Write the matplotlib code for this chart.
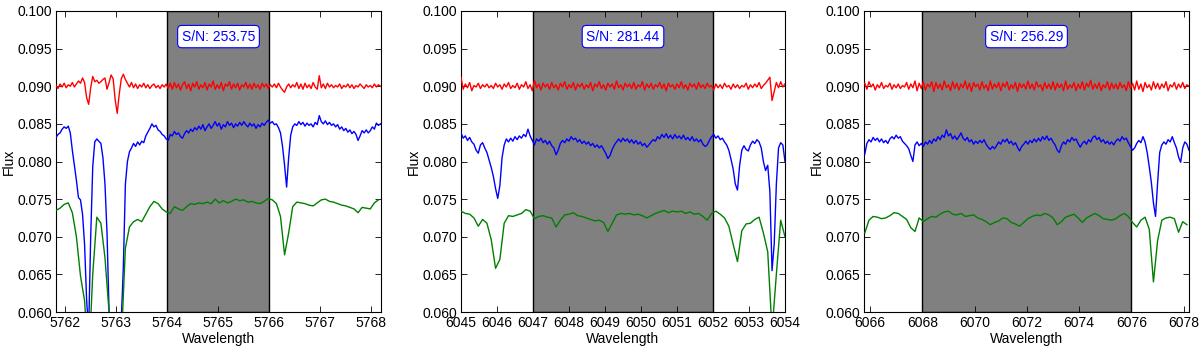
import numpy as np
import matplotlib
matplotlib.use("Agg")
import matplotlib.pyplot as plt

plt.rcParams['font.family'] = ['Liberation Sans', 'DejaVu Sans']

# ---------------- data ----------------
sn_labels = ["S/N: 253.75", "S/N: 281.44", "S/N: 256.29"]
xlims = [(5761.82, 5768.19), (6045.0, 6054.0), (6065.77, 6078.2)]
spans = [(5764.0, 5766.0), (6047.0, 6052.0), (6068.0, 6076.0)]
xticks = [list(range(5762, 5769)), list(range(6045, 6055)), list(range(6066, 6079, 2))]
yticks = [0.060, 0.065, 0.070, 0.075, 0.080, 0.085, 0.090, 0.095, 0.100]

# wavelength ranges of the sampled spectra (start, end)
wl_rb1 = (5761.82, 5768.18)
wl_g1 = (5761.82, 5768.14)
wl_rb2 = (6045.0, 6054.0)
wl_g2 = (6045.0, 6054.0)
wl_rb3 = (6065.8, 6078.2)
wl_g3 = (6065.8, 6078.12)

red1 = [
    0.0901, 0.0897, 0.0903, 0.0899, 0.0904, 0.0898, 0.0902, 0.0900, 0.0905, 0.0899,
    0.0903, 0.0907, 0.0904, 0.0911, 0.0905, 0.0885, 0.0876, 0.0898, 0.0913, 0.0906,
    0.0908, 0.0904, 0.0906, 0.0909, 0.0911, 0.0896, 0.0905, 0.0915, 0.0910, 0.0882,
    0.0864, 0.0890, 0.0910, 0.0916, 0.0909, 0.0904, 0.0899, 0.0905, 0.0898, 0.0903,
    0.0897, 0.0902, 0.0899, 0.0904, 0.0898, 0.0902, 0.0897, 0.0901, 0.0903, 0.0898,
    0.0901, 0.0897, 0.0902, 0.0899, 0.0903, 0.0897, 0.0904, 0.0896, 0.0905, 0.0898,
    0.0903, 0.0895, 0.0902, 0.0906, 0.0897, 0.0903, 0.0894, 0.0904, 0.0899, 0.0906,
    0.0896, 0.0902, 0.0898, 0.0905, 0.0895, 0.0903, 0.0899, 0.0907, 0.0896, 0.0902,
    0.0897, 0.0905, 0.0894, 0.0903, 0.0900, 0.0906, 0.0896, 0.0903, 0.0898, 0.0904,
    0.0895, 0.0902, 0.0899, 0.0905, 0.0897, 0.0903, 0.0896, 0.0904, 0.0898, 0.0902,
    0.0896, 0.0904, 0.0899, 0.0903, 0.0897, 0.0902, 0.0899, 0.0903, 0.0898, 0.0904,
    0.0899, 0.0895, 0.0892, 0.0899, 0.0903, 0.0898, 0.0902, 0.0899, 0.0905, 0.0897,
    0.0903, 0.0896, 0.0904, 0.0898, 0.0902, 0.0897, 0.0905, 0.0899, 0.0896, 0.0914,
    0.0898, 0.0903, 0.0897, 0.0904, 0.0899, 0.0902, 0.0898, 0.0901, 0.0899, 0.0903,
    0.0897, 0.0901, 0.0899, 0.0903, 0.0898, 0.0902, 0.0897, 0.0901, 0.0899, 0.0903,
    0.0900, 0.0897, 0.0902, 0.0899, 0.0901, 0.0898, 0.0903, 0.0899, 0.0902, 0.0900,
]
blue1 = [
    0.0832, 0.0836, 0.0838, 0.0843, 0.0846, 0.0844, 0.0847, 0.0838, 0.0815, 0.0795,
    0.0775, 0.0752, 0.0749, 0.0730, 0.0690, 0.0616, 0.0575, 0.0700, 0.0793, 0.0826,
    0.0830, 0.0827, 0.0824, 0.0805, 0.0770, 0.0705, 0.0600, 0.0540, 0.0510, 0.0500,
    0.0510, 0.0540, 0.0590, 0.0660, 0.0770, 0.0800, 0.0813, 0.0818, 0.0824, 0.0820,
    0.0826, 0.0822, 0.0827, 0.0825, 0.0834, 0.0839, 0.0844, 0.0850, 0.0846, 0.0848,
    0.0842, 0.0840, 0.0836, 0.0834, 0.0830, 0.0828, 0.0836, 0.0834, 0.0840, 0.0836,
    0.0838, 0.0833, 0.0831, 0.0837, 0.0841, 0.0838, 0.0843, 0.0840, 0.0845, 0.0842,
    0.0847, 0.0843, 0.0849, 0.0841, 0.0846, 0.0850, 0.0844, 0.0848, 0.0853, 0.0847,
    0.0851, 0.0843, 0.0849, 0.0846, 0.0853, 0.0848, 0.0851, 0.0845, 0.0850, 0.0847,
    0.0852, 0.0848, 0.0853, 0.0849, 0.0846, 0.0851, 0.0847, 0.0850, 0.0844, 0.0849,
    0.0846, 0.0851, 0.0848, 0.0852, 0.0855, 0.0851, 0.0853, 0.0849, 0.0850, 0.0845,
    0.0838, 0.0820, 0.0795, 0.0766, 0.0805, 0.0835, 0.0846, 0.0850, 0.0848, 0.0853,
    0.0849, 0.0852, 0.0847, 0.0851, 0.0848, 0.0850, 0.0846, 0.0852, 0.0849, 0.0861,
    0.0853, 0.0850, 0.0854, 0.0849, 0.0852, 0.0848, 0.0850, 0.0846, 0.0849, 0.0843,
    0.0846, 0.0841, 0.0844, 0.0839, 0.0842, 0.0837, 0.0840, 0.0836, 0.0828, 0.0834,
    0.0841, 0.0838, 0.0842, 0.0838, 0.0841, 0.0846, 0.0843, 0.0851, 0.0848, 0.0850,
]
green1 = [
    0.0735, 0.0738, 0.0743, 0.0745, 0.0732, 0.0700, 0.0648, 0.0615, 0.0530, 0.0650,
    0.0726, 0.0718, 0.0672, 0.0600, 0.0500, 0.0480, 0.0560, 0.0685, 0.0713, 0.0720,
    0.0723, 0.0720, 0.0730, 0.0740, 0.0747, 0.0744, 0.0737, 0.0733, 0.0731, 0.0740,
    0.0737, 0.0735, 0.0740, 0.0744, 0.0743, 0.0745, 0.0744, 0.0746, 0.0744, 0.0750,
    0.0745, 0.0748, 0.0745, 0.0747, 0.0750, 0.0748, 0.0749, 0.0746, 0.0747, 0.0745,
    0.0744, 0.0747, 0.0751, 0.0749, 0.0744, 0.0727, 0.0676, 0.0705, 0.0740, 0.0746,
    0.0745, 0.0744, 0.0742, 0.0741, 0.0745, 0.0749, 0.0750, 0.0747, 0.0746, 0.0744,
    0.0742, 0.0741, 0.0739, 0.0737, 0.0732, 0.0739, 0.0738, 0.0737, 0.0745, 0.0749,
]

red2 = [
    0.0912, 0.0896, 0.0903, 0.0898, 0.0905, 0.0894, 0.0901, 0.0899, 0.0904, 0.0897,
    0.0902, 0.0899, 0.0903, 0.0898, 0.0901, 0.0897, 0.0904, 0.0899, 0.0902, 0.0896,
    0.0903, 0.0899, 0.0905, 0.0897, 0.0901, 0.0898, 0.0904, 0.0896, 0.0902, 0.0899,
    0.0906, 0.0897, 0.0902, 0.0894, 0.0908, 0.0898, 0.0903, 0.0895, 0.0904, 0.0899,
    0.0903, 0.0896, 0.0905, 0.0898, 0.0902, 0.0895, 0.0904, 0.0899, 0.0906, 0.0896,
    0.0902, 0.0898, 0.0905, 0.0895, 0.0903, 0.0899, 0.0904, 0.0896, 0.0902, 0.0898,
    0.0905, 0.0894, 0.0903, 0.0899, 0.0906, 0.0897, 0.0902, 0.0895, 0.0904, 0.0899,
    0.0903, 0.0896, 0.0907, 0.0898, 0.0902, 0.0895, 0.0904, 0.0899, 0.0903, 0.0897,
    0.0905, 0.0896, 0.0902, 0.0899, 0.0906, 0.0895, 0.0903, 0.0898, 0.0904, 0.0896,
    0.0902, 0.0899, 0.0905, 0.0897, 0.0903, 0.0894, 0.0904, 0.0899, 0.0902, 0.0896,
    0.0903, 0.0898, 0.0906, 0.0897, 0.0902, 0.0895, 0.0904, 0.0899, 0.0903, 0.0896,
    0.0905, 0.0898, 0.0902, 0.0897, 0.0904, 0.0899, 0.0901, 0.0895, 0.0903, 0.0898,
    0.0902, 0.0897, 0.0904, 0.0899, 0.0901, 0.0896, 0.0903, 0.0898, 0.0902, 0.0897,
    0.0901, 0.0899, 0.0904, 0.0896, 0.0902, 0.0898, 0.0903, 0.0899, 0.0905, 0.0897,
    0.0901, 0.0904, 0.0908, 0.0912, 0.0881, 0.0893, 0.0905, 0.0898, 0.0906, 0.0899,
    0.0903,
]
blue2 = [
    0.0838, 0.0831, 0.0834, 0.0828, 0.0832, 0.0826, 0.0823, 0.0815, 0.0811, 0.0822,
    0.0825, 0.0818, 0.0812, 0.0802, 0.0792, 0.0780, 0.0764, 0.0751, 0.0768, 0.0805,
    0.0822, 0.0830, 0.0826, 0.0831, 0.0827, 0.0833, 0.0829, 0.0834, 0.0831, 0.0836,
    0.0833, 0.0843, 0.0834, 0.0828, 0.0822, 0.0830, 0.0827, 0.0831, 0.0825, 0.0828,
    0.0823, 0.0827, 0.0821, 0.0818, 0.0809, 0.0815, 0.0824, 0.0828, 0.0825, 0.0830,
    0.0827, 0.0833, 0.0829, 0.0831, 0.0826, 0.0829, 0.0824, 0.0827, 0.0823, 0.0826,
    0.0821, 0.0824, 0.0819, 0.0822, 0.0818, 0.0821, 0.0816, 0.0811, 0.0804, 0.0808,
    0.0816, 0.0822, 0.0826, 0.0830, 0.0826, 0.0831, 0.0827, 0.0830, 0.0825, 0.0829,
    0.0824, 0.0828, 0.0823, 0.0826, 0.0821, 0.0824, 0.0819, 0.0822, 0.0826, 0.0829,
    0.0827, 0.0833, 0.0830, 0.0836, 0.0832, 0.0837, 0.0831, 0.0835, 0.0830, 0.0836,
    0.0831, 0.0834, 0.0830, 0.0835, 0.0829, 0.0832, 0.0828, 0.0833, 0.0827, 0.0830,
    0.0826, 0.0829, 0.0823, 0.0820, 0.0822, 0.0828, 0.0833, 0.0836, 0.0831, 0.0834,
    0.0829, 0.0831, 0.0826, 0.0822, 0.0815, 0.0803, 0.0790, 0.0770, 0.0762, 0.0795,
    0.0815, 0.0821, 0.0816, 0.0814, 0.0822, 0.0827, 0.0824, 0.0829, 0.0826, 0.0818,
    0.0800, 0.0788, 0.0795, 0.0760, 0.0655, 0.0690, 0.0770, 0.0818, 0.0825, 0.0822,
    0.0800,
]
green2 = [
    0.0734, 0.0731, 0.0730, 0.0725, 0.0714, 0.0723, 0.0718, 0.0696, 0.0658, 0.0670,
    0.0718, 0.0728, 0.0727, 0.0729, 0.0731, 0.0736, 0.0734, 0.0724, 0.0727, 0.0728,
    0.0726, 0.0725, 0.0713, 0.0722, 0.0729, 0.0730, 0.0732, 0.0728, 0.0727, 0.0725,
    0.0723, 0.0721, 0.0722, 0.0719, 0.0707, 0.0718, 0.0729, 0.0731, 0.0730, 0.0731,
    0.0729, 0.0730, 0.0728, 0.0725, 0.0728, 0.0731, 0.0733, 0.0735, 0.0732, 0.0734,
    0.0733, 0.0734, 0.0731, 0.0733, 0.0730, 0.0731, 0.0727, 0.0722, 0.0731, 0.0734,
    0.0730, 0.0725, 0.0714, 0.0690, 0.0667, 0.0708, 0.0717, 0.0718, 0.0723, 0.0726,
    0.0705, 0.0680, 0.0575, 0.0650, 0.0722, 0.0700,
]

red3 = [
    0.0904, 0.0896, 0.0906, 0.0899, 0.0903, 0.0895, 0.0902, 0.0898, 0.0905, 0.0897,
    0.0901, 0.0899, 0.0904, 0.0896, 0.0902, 0.0898, 0.0903, 0.0897, 0.0901, 0.0899,
    0.0905, 0.0896, 0.0903, 0.0898, 0.0907, 0.0894, 0.0904, 0.0897, 0.0906, 0.0895,
    0.0903, 0.0899, 0.0906, 0.0893, 0.0905, 0.0897, 0.0903, 0.0895, 0.0907, 0.0898,
    0.0902, 0.0894, 0.0906, 0.0897, 0.0904, 0.0895, 0.0903, 0.0898, 0.0907, 0.0896,
    0.0904, 0.0893, 0.0905, 0.0899, 0.0903, 0.0895, 0.0906, 0.0897, 0.0902, 0.0894,
    0.0907, 0.0896, 0.0903, 0.0898, 0.0905, 0.0894, 0.0904, 0.0899, 0.0906, 0.0895,
    0.0902, 0.0897, 0.0905, 0.0893, 0.0904, 0.0898, 0.0903, 0.0896, 0.0907, 0.0897,
    0.0903, 0.0895, 0.0906, 0.0899, 0.0902, 0.0894, 0.0905, 0.0897, 0.0903, 0.0896,
    0.0906, 0.0895, 0.0904, 0.0898, 0.0903, 0.0894, 0.0907, 0.0896, 0.0902, 0.0898,
    0.0905, 0.0894, 0.0903, 0.0897, 0.0906, 0.0895, 0.0904, 0.0899, 0.0908, 0.0896,
    0.0903, 0.0897, 0.0905, 0.0894, 0.0902, 0.0898, 0.0906, 0.0895, 0.0904, 0.0897,
    0.0903, 0.0896, 0.0905, 0.0898, 0.0902, 0.0894, 0.0906, 0.0897, 0.0904, 0.0895,
    0.0907, 0.0896, 0.0903, 0.0893, 0.0905, 0.0898, 0.0902, 0.0895, 0.0906, 0.0897,
    0.0904, 0.0896, 0.0903, 0.0898, 0.0906, 0.0894, 0.0902, 0.0899, 0.0905, 0.0896,
    0.0903, 0.0898, 0.0905, 0.0897, 0.0902, 0.0900,
]
blue3 = [
    0.0810, 0.0824, 0.0829, 0.0826, 0.0832, 0.0828, 0.0831, 0.0826, 0.0830, 0.0825,
    0.0828, 0.0824, 0.0830, 0.0833, 0.0830, 0.0835, 0.0831, 0.0833, 0.0827, 0.0824,
    0.0821, 0.0817, 0.0808, 0.0800, 0.0822, 0.0826, 0.0821, 0.0824, 0.0820, 0.0826,
    0.0823, 0.0828, 0.0824, 0.0830, 0.0827, 0.0833, 0.0829, 0.0835, 0.0832, 0.0842,
    0.0834, 0.0837, 0.0830, 0.0834, 0.0829, 0.0833, 0.0838, 0.0831, 0.0828, 0.0832,
    0.0826, 0.0829, 0.0823, 0.0827, 0.0824, 0.0828, 0.0825, 0.0829, 0.0823, 0.0819,
    0.0816, 0.0820, 0.0817, 0.0821, 0.0826, 0.0823, 0.0829, 0.0826, 0.0830, 0.0824,
    0.0827, 0.0822, 0.0825, 0.0819, 0.0814, 0.0820, 0.0823, 0.0827, 0.0823, 0.0828,
    0.0825, 0.0830, 0.0826, 0.0831, 0.0827, 0.0833, 0.0829, 0.0834, 0.0828, 0.0831,
    0.0826, 0.0822, 0.0815, 0.0812, 0.0821, 0.0826, 0.0823, 0.0829, 0.0826, 0.0832,
    0.0828, 0.0830, 0.0824, 0.0819, 0.0824, 0.0827, 0.0823, 0.0829, 0.0826, 0.0832,
    0.0834, 0.0829, 0.0832, 0.0826, 0.0829, 0.0824, 0.0827, 0.0823, 0.0826, 0.0822,
    0.0827, 0.0830, 0.0827, 0.0833, 0.0829, 0.0831, 0.0825, 0.0820, 0.0815, 0.0818,
    0.0824, 0.0828, 0.0825, 0.0833, 0.0826, 0.0812, 0.0793, 0.0772, 0.0745, 0.0727,
    0.0772, 0.0812, 0.0822, 0.0826, 0.0823, 0.0829, 0.0826, 0.0833, 0.0825, 0.0818,
    0.0806, 0.0799, 0.0818, 0.0826, 0.0823, 0.0815,
]
green3 = [
    0.0705, 0.0722, 0.0727, 0.0726, 0.0724, 0.0725, 0.0728, 0.0732, 0.0731, 0.0727,
    0.0723, 0.0712, 0.0707, 0.0725, 0.0720, 0.0724, 0.0727, 0.0726, 0.0730, 0.0733,
    0.0734, 0.0730, 0.0729, 0.0731, 0.0727, 0.0728, 0.0729, 0.0725, 0.0723, 0.0720,
    0.0716, 0.0719, 0.0721, 0.0725, 0.0724, 0.0719, 0.0717, 0.0714, 0.0719, 0.0724,
    0.0727, 0.0729, 0.0728, 0.0731, 0.0729, 0.0725, 0.0716, 0.0720, 0.0726, 0.0728,
    0.0730, 0.0725, 0.0719, 0.0725, 0.0728, 0.0731, 0.0728, 0.0724, 0.0723, 0.0722,
    0.0724, 0.0728, 0.0731, 0.0727, 0.0719, 0.0713, 0.0722, 0.0726, 0.0710, 0.0640,
    0.0695, 0.0722, 0.0725, 0.0726, 0.0724, 0.0706, 0.0720, 0.0716,
]

reds = [red1, red2, red3]
blues = [blue1, blue2, blue3]
greens = [green1, green2, green3]
wl_rb = [wl_rb1, wl_rb2, wl_rb3]
wl_g = [wl_g1, wl_g2, wl_g3]

# ---------------- figure ----------------
fig = plt.figure(figsize=(12, 3.49), dpi=100)
lefts = [56 / 1200, 461 / 1200, 864 / 1200]
widths = [325 / 1200, 324 / 1200, 325 / 1200]
bottom = 1 - 312 / 349
height = 301 / 349

for k in range(3):
    ax = fig.add_axes([lefts[k], bottom, widths[k], height])
    ax.axvspan(spans[k][0], spans[k][1], facecolor='#808080', edgecolor='black',
               linewidth=1.0, zorder=1)
    xr = np.linspace(wl_rb[k][0], wl_rb[k][1], len(reds[k]))
    xg = np.linspace(wl_g[k][0], wl_g[k][1], len(greens[k]))
    ax.plot(xr, reds[k], color='#ff0000', lw=1.0, zorder=3)
    ax.plot(xr, blues[k], color='#0000ff', lw=1.0, zorder=3)
    ax.plot(xg, greens[k], color='#008000', lw=1.0, zorder=3)
    ax.set_xlim(*xlims[k])
    ax.set_ylim(0.060, 0.100)
    ax.set_xticks(xticks[k])
    ax.set_xticklabels([str(t) for t in xticks[k]])
    ax.set_yticks(yticks)
    ax.set_yticklabels(['%.3f' % t for t in yticks])
    ax.tick_params(direction='in', top=True, right=True, labelsize=10,
                   length=4, width=0.6, pad=3)
    ax.set_xlabel('Wavelength', fontsize=10, labelpad=1)
    ax.set_ylabel('Flux', fontsize=10, labelpad=1)
    for s in ax.spines.values():
        s.set_linewidth(0.8)
    ax.text(0.5, 0.915, sn_labels[k], transform=ax.transAxes, ha='center', va='center',
            color='#0000ff', fontsize=10, zorder=5,
            bbox=dict(boxstyle='round,pad=0.3', facecolor='white', edgecolor='#0000ff', lw=0.8))

fig.savefig('out.png', dpi=100)
